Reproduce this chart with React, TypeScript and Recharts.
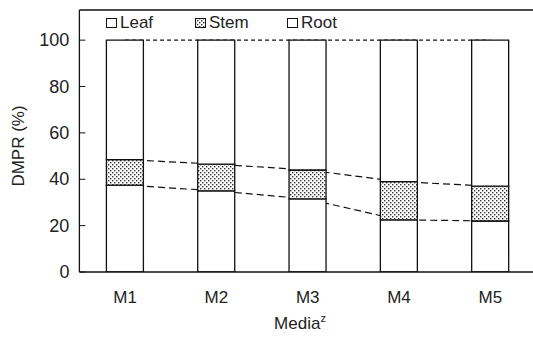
import { ComposedChart, Bar, Line, XAxis, YAxis, ReferenceLine } from 'recharts';

// Dry matter partitioning ratio per medium (%)
const media = ['M1', 'M2', 'M3', 'M4', 'M5'];
const root = [37.5, 35, 31.5, 22.5, 22];
const stem = [11, 11.5, 12.5, 16.5, 15];
const leaf = [51.5, 53.5, 56, 61, 63];
const yTicks = [0, 20, 40, 60, 80, 100];

const chartData = media.map((m, i) => ({
  name: m,
  Root: root[i],
  Stem: stem[i],
  Leaf: leaf[i],
  rootTop: root[i],
  stemTop: root[i] + stem[i],
  leafTop: root[i] + stem[i] + leaf[i],
}));

const font = '"Liberation Sans", Arial, sans-serif';

const YTick = ({ x, y, payload }: any) => (
  <g>
    <line x1={x + 10} x2={x + 16} y1={y} y2={y} stroke="#111" strokeWidth={1} />
    <text x={x} y={y} textAnchor="end" dominantBaseline="central" fontSize={18} fill="#222" fontFamily={font}>
      {payload.value}
    </text>
  </g>
);

const XTick = ({ x, y, payload }: any) => (
  <text x={x} y={y + 23} textAnchor="middle" fontSize={17} fill="#222" fontFamily={font}>
    {payload.value}
  </text>
);

const LegendBox = ({ label, fill }: { label: string; fill: string }) => (
  <span style={{ display: 'inline-flex', alignItems: 'center' }}>
    <svg width={12} height={11} style={{ marginRight: 2 }}>
      <rect x={0.5} y={0.5} width={10} height={9} fill={fill} stroke="#111" strokeWidth={1} />
    </svg>
    {label}
  </span>
);

export default function App() {
  return (
    <div style={{ position: 'fixed', left: 0, top: 0, width: 533, height: 341, overflow: 'hidden', background: '#fff' }}>
      <ComposedChart
        width={545}
        height={341}
        data={chartData}
        margin={{ top: 10, right: 9, left: 0, bottom: 0 }}
      >
        <defs>
          <pattern id="stemDots" width="4" height="4" patternUnits="userSpaceOnUse">
            <rect width="4" height="4" fill="#fff" />
            <rect x="0" y="0" width="1.4" height="1.4" fill="#333" />
            <rect x="2" y="2" width="1.4" height="1.4" fill="#333" />
          </pattern>
        </defs>
        <XAxis
          dataKey="name"
          height={69}
          tickLine={false}
          axisLine={{ stroke: '#111', strokeWidth: 1.3 }}
          tick={<XTick />}
          interval={0}
        />
        <YAxis
          width={79.4}
          domain={[0, 113]}
          ticks={yTicks}
          tickSize={0}
          tickMargin={10}
          tickLine={false}
          axisLine={{ stroke: '#111', strokeWidth: 1.3 }}
          tick={<YTick />}
          allowDataOverflow
        />
        <ReferenceLine y={113} stroke="#111" strokeWidth={1.3} />
        <Line dataKey="rootTop" stroke="#111" strokeWidth={1.2} strokeDasharray="7 4" dot={false} isAnimationActive={false} zIndex={100} />
        <Line dataKey="stemTop" stroke="#111" strokeWidth={1.2} strokeDasharray="7 4" dot={false} isAnimationActive={false} zIndex={100} />
        <Line dataKey="leafTop" stroke="#111" strokeWidth={1.2} strokeDasharray="4 3" dot={false} isAnimationActive={false} zIndex={100} />
        <Bar dataKey="Root" stackId="a" fill="#fff" stroke="#111" strokeWidth={1.3} barSize={37} isAnimationActive={false} />
        <Bar dataKey="Stem" stackId="a" fill="url(#stemDots)" stroke="#111" strokeWidth={1.3} barSize={37} isAnimationActive={false} />
        <Bar dataKey="Leaf" stackId="a" fill="#fff" stroke="#111" strokeWidth={1.3} barSize={37} isAnimationActive={false} />
        <text x={18} y={146} transform="rotate(-90 18 146)" textAnchor="middle" dominantBaseline="central" fontSize={17} fill="#222" fontFamily={font}>
          DMPR (%)
        </text>
        <text x={300} y={329} textAnchor="middle" fontSize={17} fill="#222" fontFamily={font}>
          Media<tspan dy={-7} fontSize={11}>z</tspan>
        </text>
      </ComposedChart>
      <div style={{ position: 'absolute', left: 106, top: 13, fontFamily: font, fontSize: 17, color: '#222', display: 'flex', lineHeight: '20px' }}>
        <div style={{ width: 89 }}><LegendBox label="Leaf" fill="#fff" /></div>
        <div style={{ width: 92 }}><LegendBox label="Stem" fill="url(#stemDots)" /></div>
        <div><LegendBox label="Root" fill="#fff" /></div>
      </div>
    </div>
  );
}
